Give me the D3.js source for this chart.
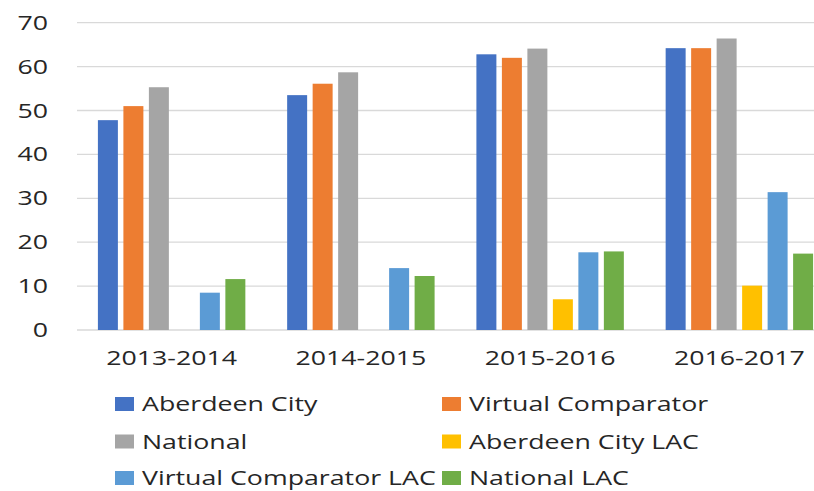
<!DOCTYPE html>
<html>
<head>
<meta charset="utf-8">
<script src="https://cdn.jsdelivr.net/npm/d3@7"></script>
<style>
  html, body { margin: 0; padding: 0; background: #fff; }
  svg { display: block; }
  text { font-family: "Open Sans", "Noto Sans", sans-serif; fill: #262626; }
</style>
</head>
<body>
<svg id="chart" width="814" height="491"></svg>
<script>
// ---- data ----
const categories = ["2013-2014", "2014-2015", "2015-2016", "2016-2017"];
const seriesNames = ["Aberdeen City", "Virtual Comparator", "National",
                     "Aberdeen City LAC", "Virtual Comparator LAC", "National LAC"];
const aberdeenCity       = [47.8, 53.5, 62.8, 64.2];
const virtualComparator  = [51.0, 56.1, 62.0, 64.2];
const national           = [55.3, 58.7, 64.1, 66.4];
const aberdeenCityLAC    = [null, null, 7.0, 10.1];
const virtualCompLAC     = [8.5, 14.1, 17.7, 31.4];
const nationalLAC        = [11.6, 12.3, 17.9, 17.4];
const yTicks = [0, 10, 20, 30, 40, 50, 60, 70];
const colors = ["#4472C4", "#ED7D31", "#A5A5A5", "#FFC000", "#5B9BD5", "#70AD47"];

const seriesValues = [aberdeenCity, virtualComparator, national,
                      aberdeenCityLAC, virtualCompLAC, nationalLAC];

// ---- layout ----
const svg = d3.select("#chart");
const plotLeft = 77, plotRight = 834, plotTop = 22.7, plotBottom = 330;
const STRETCH = 1.37;
const FS = 19.5;

function stretch(sel) {
  sel.each(function () {
    const len = this.getComputedTextLength();
    d3.select(this).attr("textLength", len * STRETCH).attr("lengthAdjust", "spacingAndGlyphs");
  });
}

const y = d3.scaleLinear().domain([0, 70]).range([plotBottom, plotTop]);
const x0 = d3.scaleBand().domain(categories).range([plotLeft, plotRight]);
const x1 = d3.scaleBand().domain(seriesNames).range([0, x0.bandwidth()])
  .paddingInner(0.216).paddingOuter(0.82);

// gridlines
svg.append("g").selectAll("line").data(yTicks).join("line")
  .attr("x1", plotLeft).attr("x2", 814)
  .attr("y1", d => y(d)).attr("y2", d => y(d))
  .attr("stroke", "#d9d9d9").attr("stroke-width", 1.3);

// y labels
const yl = svg.append("g").selectAll("text").data(yTicks).join("text")
  .attr("x", 48).attr("y", d => y(d)).attr("dy", "0.36em")
  .attr("text-anchor", "end").attr("font-size", FS)
  .text(d => d);
stretch(yl);

// bars
const rows = [];
categories.forEach((c, ci) => {
  seriesNames.forEach((s, si) => {
    const v = seriesValues[si][ci];
    if (v != null) rows.push({ c, s, si, v });
  });
});
svg.append("g").selectAll("rect").data(rows).join("rect")
  .attr("x", d => x0(d.c) + x1(d.s))
  .attr("width", x1.bandwidth())
  .attr("y", d => y(d.v))
  .attr("height", d => y(0) - y(d.v))
  .attr("fill", d => colors[d.si]);

// x labels
const xl = svg.append("g").selectAll("text").data(categories).join("text")
  .attr("x", d => x0(d) + x0.bandwidth() / 2)
  .attr("y", 365)
  .attr("text-anchor", "middle").attr("font-size", FS)
  .text(d => d);
stretch(xl);

// legend
const legendCols = [115, 442];
const legendRows = [411, 448.5, 485];
const lg = svg.append("g").selectAll("g").data(seriesNames).join("g")
  .attr("transform", (d, i) => `translate(${legendCols[i % 2]},${legendRows[Math.floor(i / 2)]})`);
lg.append("rect").attr("x", 0).attr("y", -14).attr("width", 19).attr("height", 14)
  .attr("fill", (d, i) => colors[i]);
const lt = lg.append("text").attr("x", 27).attr("y", 0).attr("font-size", FS).text(d => d);
stretch(lt);
</script>
</body>
</html>
